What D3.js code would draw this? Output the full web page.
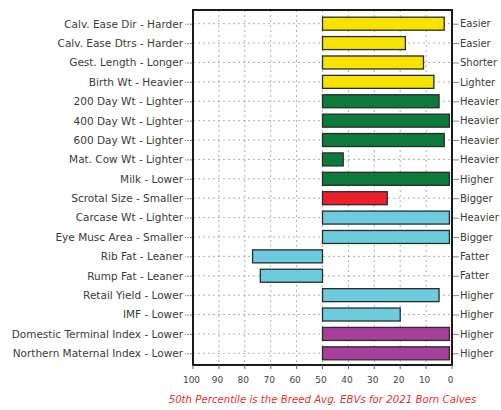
<!DOCTYPE html>
<html><head><meta charset="utf-8">
<script src="https://cdn.jsdelivr.net/npm/d3@7"></script>
<style>body{margin:0;background:#fff}svg{display:block}text{font-family:"DejaVu Sans",Verdana,sans-serif}</style>
</head><body><svg id="c" width="501" height="410"></svg>
<script>
const categories = ["Calv. Ease Dir - Harder","Calv. Ease Dtrs - Harder","Gest. Length - Longer","Birth Wt - Heavier","200 Day Wt - Lighter","400 Day Wt - Lighter","600 Day Wt - Lighter","Mat. Cow Wt - Lighter","Milk - Lower","Scrotal Size - Smaller","Carcase Wt - Lighter","Eye Musc Area - Smaller","Rib Fat - Leaner","Rump Fat - Leaner","Retail Yield - Lower","IMF - Lower","Domestic Terminal Index - Lower","Northern Maternal Index - Lower"];
const rightLabels = ["Easier","Easier","Shorter","Lighter","Heavier","Heavier","Heavier","Heavier","Higher","Bigger","Heavier","Bigger","Fatter","Fatter","Higher","Higher","Higher","Higher"];
const percentiles = [3,18,11,7,5,1,3,42,1,25,1,1,77,74,5,20,1,1];
const groups = ["calving","calving","calving","calving","growth","growth","growth","growth","growth","fertility","carcase","carcase","carcase","carcase","carcase","carcase","index","index"];
const groupColors = {calving:"#f6e400",growth:"#0b7a3b",fertility:"#e8212b",carcase:"#6ccbdd",index:"#a6409b"};
const xTicks = [100,90,80,70,60,50,40,30,20,10,0];
const baseline = 50;
const note = "50th Percentile is the Breed Avg. EBVs for 2021 Born Calves";

const FONT = "'DejaVu Sans',Verdana,sans-serif";
const svg = d3.select("#c");
const L=193,R=452,T=10,B=365;
const x = d3.scaleLinear().domain([100,0]).range([L,R]);
const y = d3.scaleBand().domain(categories).range([14,363]).paddingInner(0.33).paddingOuter(0.165);
const yc = d => y(d)+y.bandwidth()/2;

// grid vertical
svg.append("g").selectAll("line").data(xTicks.slice(1,-1)).join("line")
  .attr("x1",d=>x(d)).attr("x2",d=>x(d)).attr("y1",T).attr("y2",B)
  .attr("stroke","#9a9a9a").attr("stroke-width",0.8).attr("stroke-dasharray","2,3");
// grid horizontal
svg.append("g").selectAll("line").data(categories).join("line")
  .attr("x1",L).attr("x2",R).attr("y1",d=>yc(d)).attr("y2",d=>yc(d))
  .attr("stroke","#9a9a9a").attr("stroke-width",0.8).attr("stroke-dasharray","2,3");

// bars
svg.append("g").selectAll("rect").data(categories).join("rect")
  .attr("x",(d,i)=>Math.min(x(baseline),x(percentiles[i])))
  .attr("width",(d,i)=>Math.abs(x(percentiles[i])-x(baseline)))
  .attr("y",d=>y(d)).attr("height",y.bandwidth())
  .attr("fill",(d,i)=>groupColors[groups[i]])
  .attr("stroke","#2a2a2a").attr("stroke-width",1.3);

// frame
svg.append("rect").attr("x",L).attr("y",T).attr("width",R-L).attr("height",B-T)
  .attr("fill","none").attr("stroke","#1a1a1a").attr("stroke-width",2);

// left axis
const yl = svg.append("g").attr("transform",`translate(${L-1},0)`)
  .call(d3.axisLeft(d3.scalePoint().domain(categories).range([yc(categories[0]),yc(categories[categories.length-1])])).tickSize(7).tickPadding(2));
yl.select(".domain").remove();
yl.selectAll("line").attr("stroke","#888").attr("stroke-dasharray","2,1");
yl.selectAll("text").attr("font-size",10.5).attr("fill","#3a3a3a").style("font-family",FONT);

// right axis
const rScale = d3.scalePoint().domain(d3.range(categories.length)).range([yc(categories[0]),yc(categories[categories.length-1])]);
const yr = svg.append("g").attr("transform",`translate(${R+1},0)`)
  .call(d3.axisRight(rScale).tickSize(6).tickPadding(1).tickFormat(i=>rightLabels[i]));
yr.select(".domain").remove();
yr.selectAll("line").attr("stroke","#888");
yr.selectAll("text").attr("font-size",10).attr("fill","#3a3a3a").style("font-family",FONT);

// bottom axis
const xb = svg.append("g").attr("transform",`translate(-2,${B+1})`)
  .call(d3.axisBottom(x).tickValues(xTicks).tickSize(0).tickPadding(11));
xb.select(".domain").remove();
xb.selectAll("text").attr("font-size",9).attr("fill","#444").style("font-family",FONT);
svg.append("g").selectAll("line").data(xTicks).join("line")
  .attr("x1",d=>x(d)).attr("x2",d=>x(d)).attr("y1",B).attr("y2",B+4).attr("stroke","#666");

svg.append("text").attr("x",(L+R)/2).attr("y",403).attr("text-anchor","middle")
  .attr("font-size",10.2).attr("font-style","italic").attr("fill","#e8312e")
  .style("font-family",FONT).text(note);
</script></body></html>
